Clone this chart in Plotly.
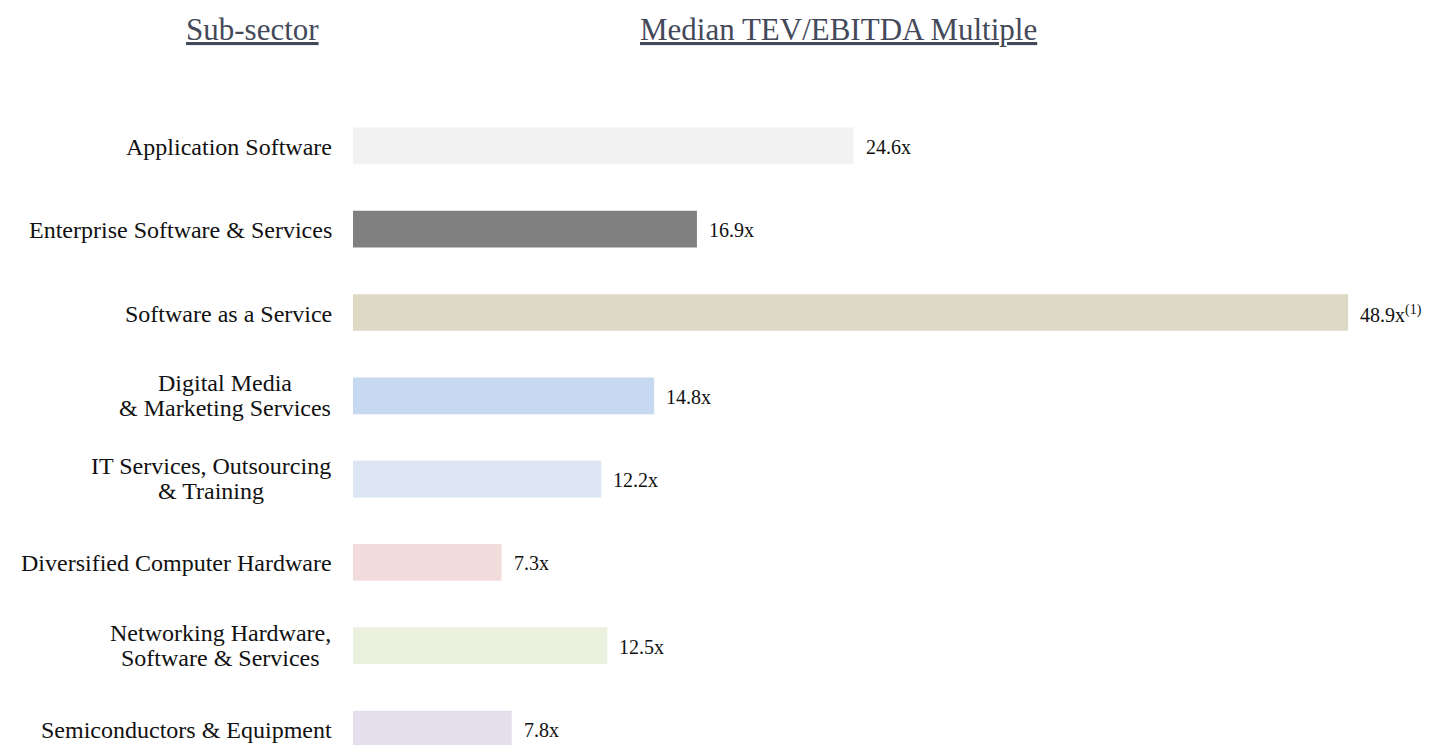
import plotly.graph_objects as go

categories = [
    "Application Software",
    "Enterprise Software & Services",
    "Software as a Service",
    "Digital Media<br>& Marketing Services",
    "IT Services, Outsourcing<br>& Training",
    "Diversified Computer Hardware",
    "Networking Hardware,<br>Software & Services",
    "Semiconductors & Equipment",
]
values = [24.6, 16.9, 48.9, 14.8, 12.2, 7.3, 12.5, 7.8]
value_labels = ["24.6x", "16.9x", "48.9x<sup>(1)</sup>", "14.8x", "12.2x", "7.3x", "12.5x", "7.8x"]
colors = ["#F2F2F2", "#808080", "#DDD9C4", "#C6D9F1", "#DCE6F2", "#F2DCDB", "#EBF1DE", "#E4DFEC"]
titles = ["Sub-sector", "Median TEV/EBITDA Multiple"]

FONT = "Liberation Serif"
LABEL_SIZE = 24

# Liberation Serif (Times-metric) advance widths, per 1000 em, used to centre
# the lines of two-line labels within a right-aligned block
_ADV = {
    " ": 250, "&": 778, ",": 250,
    "a": 444, "b": 500, "c": 444, "d": 500, "e": 444, "f": 333, "g": 500, "h": 500,
    "i": 278, "j": 278, "k": 500, "l": 278, "m": 778, "n": 500, "o": 500, "p": 500,
    "q": 500, "r": 333, "s": 389, "t": 278, "u": 500, "v": 500, "w": 722, "x": 500,
    "y": 500, "z": 444,
    "D": 722, "H": 722, "I": 333, "M": 889, "N": 722, "O": 722, "S": 556, "T": 611,
}


def text_width(s, size):
    return sum(_ADV.get(ch, 500) for ch in s) * size / 1000.0


ypos = list(range(len(categories)))

# page has an 8px body margin; work in window pixels and convert
OFF = 8
W, H = 1436 - OFF, 745 - OFF
L, R, T, B = 353 - OFF, 10, 100 - OFF, 0
pw = W - L - R
ph = H - T - B
PX_PER_UNIT = 20.35
ROW = 83.3
LABEL_GAP = 22  # pixels between label block right edge and the bars

fig = go.Figure(
    go.Bar(
        x=values,
        y=ypos,
        orientation="h",
        marker=dict(color=colors, line=dict(width=0)),
        width=0.44,
        hoverinfo="skip",
    )
)

annotations = []
for i, (v, lab) in enumerate(zip(values, value_labels)):
    annotations.append(dict(
        x=v, y=i, xref="x", yref="y", text=lab, showarrow=False,
        xanchor="left", yanchor="middle", xshift=10, yshift=-1,
        font=dict(family=FONT, size=20, color="#111111"),
    ))

label_font = dict(family=FONT, size=LABEL_SIZE, color="#111111")
for i, cat in enumerate(categories):
    lines = cat.split("<br>")
    if len(lines) == 1:
        annotations.append(dict(
            x=0, y=i, xref="x", yref="y", text=cat, showarrow=False,
            xanchor="right", yanchor="middle", xshift=-(LABEL_GAP - 3), yshift=-1,
            font=label_font,
        ))
    else:
        block_w = max(text_width(ln, LABEL_SIZE) for ln in lines)
        cx = -(LABEL_GAP + block_w / 2.0)
        for ln, ys in zip(lines, (13, -12)):
            annotations.append(dict(
                x=0, y=i, xref="x", yref="y", text=ln, showarrow=False,
                xanchor="center", yanchor="middle", xshift=cx, yshift=ys,
                font=label_font,
            ))

title_pos = [(252, 29), (838, 29)]
for t, (tx, ty) in zip(titles, title_pos):
    annotations.append(dict(
        x=(tx - OFF - L) / pw, y=(H - (ty - OFF) - B) / ph, xref="paper", yref="paper",
        text="<u>" + t + "</u>", showarrow=False, xanchor="center", yanchor="middle",
        font=dict(family=FONT, size=31, color="#44495A"),
    ))

fig.update_layout(
    width=W, height=H,
    margin=dict(l=L, r=R, t=T, b=B, pad=0),
    paper_bgcolor="white", plot_bgcolor="white",
    showlegend=False,
    annotations=annotations,
    xaxis=dict(range=[0, pw / PX_PER_UNIT], visible=False, fixedrange=True),
    yaxis=dict(range=[7 + (745 - 729) / ROW, -(729 - 7 * ROW - 100) / ROW], visible=False, fixedrange=True),
    font=dict(family=FONT),
)

fig.write_html("out.html", config={"displayModeBar": False})
